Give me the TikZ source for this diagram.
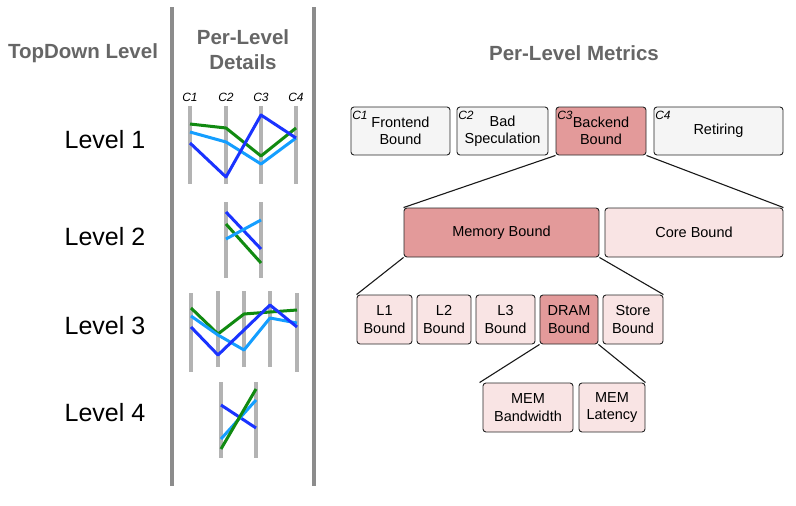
\documentclass[tikz,border=0pt]{standalone}
\usepackage{fontspec}
\setmainfont{Liberation Sans}
\usepackage{xcolor}

\definecolor{hdrgray}{HTML}{666666}
\definecolor{bargray}{HTML}{8C8C8C}
\definecolor{axisgray}{HTML}{B3B3B3}
\definecolor{hotred}{HTML}{E39A9A}
\definecolor{palered}{HTML}{F9E4E4}
\definecolor{plaingray}{HTML}{F5F5F5}
\definecolor{tdgreen}{HTML}{118A11}
\definecolor{tdcyan}{HTML}{149EFF}
\definecolor{tdblue}{HTML}{1A33FF}

\begin{document}
\begin{tikzpicture}[x=1pt,y=-1pt,
    metric/.style={draw=black!85,line width=.9pt,rounded corners=3pt,align=center,
      inner sep=0pt,text=black,font=\fontsize{14.5}{17.5}\selectfont,minimum height=48pt},
    toplvl/.style={metric,fill=plaingray},
    hotbox/.style={metric,fill=hotred},
    coolbox/.style={metric,fill=palered},
    colname/.style={font=\fontsize{12}{12}\selectfont\itshape,inner sep=0pt},
    header/.style={font=\fontsize{20.5}{25}\selectfont\bfseries,text=hdrgray,align=center},
    lvl/.style={font=\fontsize{25}{25}\selectfont},
    axis/.style={axisgray,line width=4pt},
    series/.style={line width=3pt,line join=round},
    fan/.style={black!90,line width=1.1pt}]
  \useasboundingbox (0,0) rectangle (796,506);

  % column dividers
  \draw[bargray,line width=4pt] (172,7) -- (172,486);
  \draw[bargray,line width=4pt] (314,7) -- (314,486);

  \node[header] (hlvl) at (83,53) {TopDown Level};
  \node[header] (hdet) at (243,49.5) {Per-Level\\Details};
  \node[header] (hmet) at (574,53) {Per-Level Metrics};

  \node[lvl] (lv1) at (105,140) {Level 1};
  \node[lvl] (lv2) at (105,237) {Level 2};
  \node[lvl] (lv3) at (105,326) {Level 3};
  \node[lvl] (lv4) at (105,413) {Level 4};

  % level 1 detail
  \foreach \x/\c in {190/1,226/2,261/3,296/4} {
    \node[colname] (col\c) at (\x,97) {C\c};
    \draw[axis] (\x,106) -- (\x,184);
  }
  \draw[series,tdgreen] (190,124) -- (226,128) -- (261,156) -- (296,128);
  \draw[series,tdcyan] (190,132) -- (226,142) -- (261,164) -- (296,138);
  \draw[series,tdblue] (190,143) -- (226,177) -- (261,115) -- (296,138);

  % level 2 detail
  \foreach \x in {226,261}
    \draw[axis] (\x,202) -- (\x,278);
  \draw[series,tdblue] (226,212) -- (261,249);
  \draw[series,tdgreen] (226,224) -- (261,263);
  \draw[series,tdcyan] (226,239) -- (261,220);

  % level 3 detail
  \foreach \x in {191,297}
    \draw[axis] (\x,293) -- (\x,372);
  \foreach \x in {218,244,270}
    \draw[axis] (\x,291) -- (\x,367);
  \draw[series,tdgreen] (191,308) -- (218,334) -- (244,314) -- (270,312) -- (297,310);
  \draw[series,tdcyan] (191,316) -- (218,335) -- (244,350) -- (270,318) -- (297,323);
  \draw[series,tdblue] (191,327) -- (218,355) -- (270,305) -- (297,327);

  % level 4 detail
  \foreach \x in {221,256}
    \draw[axis] (\x,382) -- (\x,458);
  \draw[series,tdblue] (221,405) -- (256,428);
  \draw[series,tdcyan] (221,439) -- (256,400);
  \draw[series,tdgreen] (221,449) -- (256,389);

  % level 1 metrics
  \node[toplvl,minimum width=99pt] (fe) at (400.5,131) {Frontend\\Bound};
  \node[toplvl,minimum width=91pt] (bs) at (502.5,131) {Bad\\Speculation};
  \node[hotbox,minimum width=90pt] (be) at (601,131) {Backend\\Bound};
  \node[toplvl,minimum width=129pt] (ret) at (718.5,131) {Retiring};
  \foreach \n/\c in {fe/1,bs/2,be/3,ret/4}
    \node[colname,anchor=north west] at ([shift={(1.5,4)}]\n.north west) {C\c};

  % level 2 metrics
  \node[hotbox,minimum width=195pt,minimum height=49pt] (mem) at (501.5,232.5) {Memory Bound};
  \node[coolbox,minimum width=178pt,minimum height=49pt] (core) at (694,232.5) {Core Bound};

  % level 3 metrics
  \node[coolbox,minimum width=55pt,minimum height=49pt] (lone) at (384.5,319.5) {L1\\Bound};
  \node[coolbox,minimum width=54pt,minimum height=49pt] (ltwo) at (444,319.5) {L2\\Bound};
  \node[coolbox,minimum width=59pt,minimum height=49pt] (lthree) at (505.5,319.5) {L3\\Bound};
  \node[hotbox,minimum width=58pt,minimum height=49pt] (dram) at (569,319.5) {DRAM\\Bound};
  \node[coolbox,minimum width=60pt,minimum height=49pt] (store) at (633,319.5) {Store\\Bound};

  % level 4 metrics
  \node[coolbox,minimum width=90pt,minimum height=49pt] (bw) at (528,407.5) {MEM\\Bandwidth};
  \node[coolbox,minimum width=66pt,minimum height=49pt] (lat) at (612,407.5) {MEM\\Latency};

  % drill-down fans
  \draw[fan] (be.south west) -- (mem.north west);
  \draw[fan] (be.south east) -- (core.north east);
  \draw[fan] (mem.south west) -- (lone.north west);
  \draw[fan] (mem.south east) -- (store.north east);
  \draw[fan] (dram.south west) -- ([xshift=-3pt]bw.north west);
  \draw[fan] (dram.south east) -- (lat.north east);
\end{tikzpicture}
\end{document}
